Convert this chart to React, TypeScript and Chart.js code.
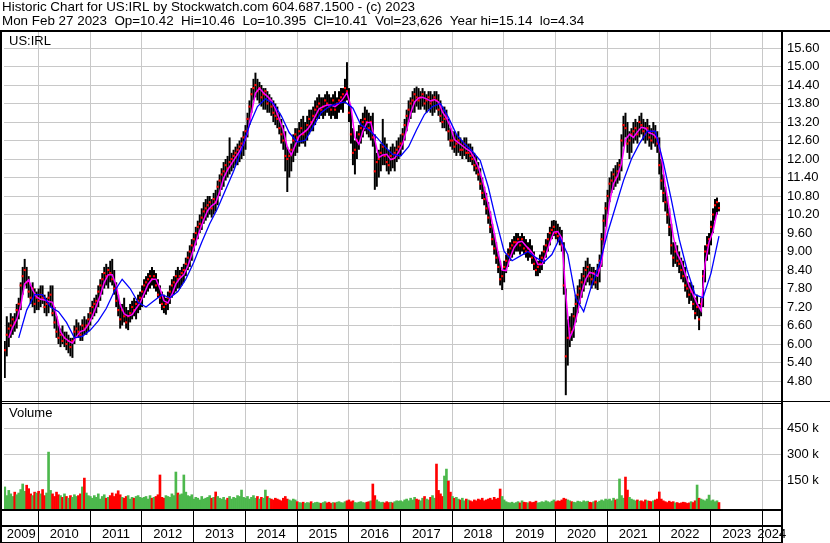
import { useEffect, useRef } from "react";
import { Chart, registerables } from "chart.js";

Chart.register(...registerables);

const FONT = "'Liberation Sans', Arial, Helvetica, sans-serif";

const HEADER_LINE_1 = "Historic Chart for US:IRL by Stockwatch.com 604.687.1500 - (c) 2023";
const HEADER_LINE_2 =
  "Mon Feb 27 2023  Op=10.42  Hi=10.46  Lo=10.395  Cl=10.41  Vol=23,626  Year hi=15.14  lo=4.34";
const SYMBOL_LABEL = "US:IRL";
const VOLUME_LABEL = "Volume";

// time axis (decimal years); one bar = two weeks
const FIRST_BAR_YEAR = 2009.35;
const BAR_STEP_YEARS = 1 / 26;
const X_MIN = 2009.3347;
const X_MAX = 2024.3568;
const YEARS = [2009, 2010, 2011, 2012, 2013, 2014, 2015, 2016, 2017, 2018, 2019, 2020, 2021, 2022, 2023, 2024];

const PRICE_TICKS = [4.8, 5.4, 6.0, 6.6, 7.2, 7.8, 8.4, 9.0, 9.6, 10.2, 10.8, 11.4, 12.0, 12.6, 13.2, 13.8, 14.4, 15.0, 15.6];
const PRICE_MIN = 4.119;
const PRICE_MAX = 16.119;
const VOLUME_TICKS = [150000, 300000, 450000];
const VOLUME_MIN = -17300;
const VOLUME_MAX = 600000;

const LOWS = [
  /*2009*/ 4.9, 5.6, 5.9, 6.2, 6.3, 6.4, 6.5, 6.8, 7.1, 7.6, 7.9, 7.8, 7.5, 7.3, 7.2, 7.0, 7.1,
  /*2010*/ 7.1, 7.2, 7.3, 7.0, 6.9, 7.0, 7.2, 6.9, 6.5, 6.2, 6.0, 5.9, 6.0, 5.9, 5.8, 5.7, 5.6, 5.55, 6.0, 6.2, 6.2, 6.1, 6.1, 6.3, 6.3, 6.4,
  /*2011*/ 6.6, 6.8, 6.9, 7.0, 7.2, 7.4, 7.6, 7.8, 7.9, 7.8, 8.0, 7.9, 7.6, 7.2, 6.9, 6.5, 6.6, 6.7, 6.5, 6.45, 6.7, 6.8, 6.9, 6.8, 7.0, 7.1,
  /*2012*/ 7.2, 7.5, 7.6, 7.7, 7.8, 7.9, 7.8, 7.7, 7.5, 7.3, 7.1, 7.0, 6.95, 7.1, 7.3, 7.5, 7.6, 7.7, 7.8, 7.8, 7.9, 8.0, 8.2, 8.4, 8.5, 8.7,
  /*2013*/ 9.0, 9.2, 9.4, 9.6, 9.7, 9.9, 10.0, 10.1, 10.2, 10.1, 10.2, 10.3, 10.5, 10.8, 11.0, 11.1, 11.3, 11.4, 11.5, 11.6, 11.7, 11.8, 11.8, 11.9, 12.0, 12.1,
  /*2014*/ 12.3, 12.7, 13.1, 13.5, 13.9, 14.0, 13.9, 13.8, 13.7, 13.6, 13.6, 13.5, 13.5, 13.4, 13.2, 13.1, 13.0, 12.8, 12.5, 12.3, 11.6, 10.93, 11.4, 11.6, 11.9, 12.1,
  /*2015*/ 12.2, 12.4, 12.5, 12.5, 12.4, 12.6, 12.8, 12.9, 12.9, 13.1, 13.3, 13.3, 13.4, 13.3, 13.4, 13.5, 13.4, 13.3, 13.4, 13.3, 13.3, 13.5, 13.6, 13.5, 13.8, 13.9,
  /*2016*/ 13.2, 12.5, 11.8, 11.5, 12.0, 12.3, 12.5, 12.7, 12.9, 12.8, 12.7, 12.6, 12.4, 11.0, 11.1, 11.4, 11.6, 11.8, 11.8, 11.6, 11.5, 11.6, 11.7, 11.6, 11.9, 12.0,
  /*2017*/ 12.1, 12.3, 12.6, 12.9, 13.2, 13.3, 13.5, 13.5, 13.7, 13.6, 13.6, 13.7, 13.6, 13.5, 13.6, 13.5, 13.4, 13.5, 13.6, 13.4, 13.2, 13.0, 13.0, 12.9, 12.6, 12.4,
  /*2018*/ 12.3, 12.2, 12.1, 12.2, 12.1, 12.0, 12.1, 12.0, 11.9, 11.9, 11.8, 11.6, 11.5, 11.3, 11.0, 10.7, 10.5, 10.2, 9.9, 9.6, 9.2, 8.9, 8.6, 8.3, 7.9, 7.75,
  /*2019*/ 8.0, 8.3, 8.5, 8.7, 8.8, 8.9, 9.0, 9.0, 8.9, 9.0, 8.9, 8.8, 8.7, 8.8, 8.6, 8.4, 8.2, 8.2, 8.3, 8.4, 8.6, 8.8, 9.0, 9.2, 9.4, 9.5,
  /*2020*/ 9.4, 9.3, 9.2, 9.0, 7.6, 4.34, 5.3, 5.9, 6.1, 6.2, 6.7, 7.0, 7.3, 7.5, 7.7, 7.9, 8.0, 7.9, 7.8, 7.9, 7.8, 7.75, 8.0, 8.5, 9.2, 9.8,
  /*2021*/ 10.2, 10.6, 10.9, 11.0, 11.1, 11.2, 11.3, 11.6, 12.4, 12.7, 12.2, 12.0, 12.2, 12.5, 12.6, 12.5, 12.7, 12.8, 12.6, 12.5, 12.6, 12.4, 12.3, 12.5, 12.4, 12.2,
  /*2022*/ 11.5, 11.0, 10.6, 10.3, 9.9, 9.5, 8.9, 8.5, 8.6, 8.5, 8.3, 8.1, 8.0, 7.7, 7.5, 7.3, 7.4, 7.1, 6.8, 6.9, 6.45, 6.9, 7.2, 8.0, 8.7, 8.9,
  /*2023*/ 9.2, 9.6, 10.0, 10.2, 10.3,
];

const HIGHS = [
  /*2009*/ 6.1, 6.9, 6.7, 7.0, 6.9, 7.0, 7.3, 7.5, 8.0, 8.5, 8.76, 8.5, 8.2, 7.9, 8.0, 7.8, 7.7,
  /*2010*/ 7.8, 7.9, 7.9, 7.6, 7.5, 7.7, 7.9, 7.9, 7.2, 6.9, 6.6, 6.5, 6.6, 6.4, 6.4, 6.3, 6.2, 6.2, 6.6, 6.8, 6.7, 6.6, 6.8, 6.9, 6.8, 7.0,
  /*2011*/ 7.2, 7.4, 7.5, 7.6, 7.9, 8.1, 8.3, 8.5, 8.6, 8.5, 8.7, 8.76, 8.4, 8.0, 7.6, 7.3, 7.3, 7.5, 7.2, 7.1, 7.3, 7.4, 7.5, 7.4, 7.6, 7.7,
  /*2012*/ 7.9, 8.1, 8.2, 8.3, 8.4, 8.5, 8.4, 8.3, 8.1, 7.9, 7.7, 7.6, 7.5, 7.7, 7.9, 8.1, 8.2, 8.4, 8.5, 8.4, 8.5, 8.6, 8.8, 9.0, 9.2, 9.4,
  /*2013*/ 9.6, 9.8, 10.0, 10.2, 10.4, 10.6, 10.7, 10.8, 10.8, 10.7, 10.9, 11.0, 11.3, 11.5, 11.7, 11.9, 12.0, 12.1, 12.7, 12.2, 12.3, 12.4, 12.5, 12.6, 12.7, 12.9,
  /*2014*/ 13.1, 13.5, 13.9, 14.3, 14.6, 14.8, 14.6, 14.5, 14.4, 14.3, 14.3, 14.2, 14.1, 14.0, 13.9, 13.8, 13.7, 13.5, 13.3, 13.1, 12.9, 12.4, 12.3, 12.5, 12.8, 13.0,
  /*2015*/ 13.0, 13.2, 13.3, 13.4, 13.2, 13.4, 13.6, 13.6, 13.7, 13.9, 14.0, 14.1, 14.0, 14.0, 14.1, 14.2, 14.1, 14.0, 14.1, 14.2, 14.0, 14.2, 14.3, 14.3, 14.6, 15.14,
  /*2016*/ 14.3, 13.7, 13.0, 12.6, 12.9, 13.1, 13.3, 13.5, 13.7, 13.6, 13.5, 13.4, 13.5, 12.8, 12.2, 12.3, 12.5, 13.3, 12.7, 12.5, 12.3, 12.4, 12.5, 12.4, 12.6, 12.7,
  /*2017*/ 12.8, 13.0, 13.3, 13.6, 13.9, 14.0, 14.2, 14.3, 14.35, 14.3, 14.2, 14.3, 14.2, 14.1, 14.2, 14.2, 14.1, 14.2, 14.2, 14.1, 13.9, 13.7, 13.7, 13.6, 13.3, 13.0,
  /*2018*/ 12.9, 12.9, 12.8, 12.9, 12.7, 12.6, 12.7, 12.7, 12.5, 12.5, 12.4, 12.2, 12.1, 11.9, 11.7, 11.4, 11.1, 10.9, 10.6, 10.3, 9.9, 9.6, 9.3, 9.0, 8.7, 8.4,
  /*2019*/ 8.7, 8.9, 9.1, 9.3, 9.4, 9.5, 9.6, 9.6, 9.5, 9.6, 9.5, 9.4, 9.3, 9.4, 9.2, 9.0, 8.8, 8.7, 8.9, 9.0, 9.2, 9.4, 9.6, 9.8, 10.0, 10.02,
  /*2020*/ 10.0, 9.9, 9.8, 9.7, 9.3, 7.8, 6.8, 6.9, 7.0, 7.2, 7.6, 7.9, 8.1, 8.3, 8.5, 8.7, 8.8, 8.6, 8.5, 8.5, 8.4, 8.6, 8.9, 9.6, 10.2, 10.6,
  /*2021*/ 11.0, 11.4, 11.6, 11.7, 11.8, 11.9, 12.0, 12.8, 13.4, 13.5, 13.2, 12.9, 13.0, 13.2, 13.3, 13.2, 13.4, 13.5, 13.3, 13.2, 13.3, 13.1, 13.0, 13.2, 13.1, 12.9,
  /*2022*/ 12.7, 12.0, 11.5, 11.1, 10.8, 10.4, 9.9, 9.3, 9.3, 9.2, 9.0, 8.8, 8.7, 8.5, 8.2, 8.0, 8.0, 7.9, 7.5, 7.6, 7.3, 7.5, 8.4, 9.2, 9.5, 9.6,
  /*2023*/ 10.0, 10.4, 10.7, 10.75, 10.6,
];

const CLOSES = [
  /*2009*/ 5.8, 6.3, 6.5, 6.6, 6.8, 6.7, 7.1, 7.3, 7.9, 8.2, 8.4, 8.0, 7.7, 7.5, 7.8, 7.3, 7.5,
  /*2010*/ 7.4, 7.6, 7.5, 7.2, 7.3, 7.5, 7.6, 7.0, 6.7, 6.4, 6.2, 6.3, 6.1, 6.2, 6.0, 6.1, 5.9, 6.1, 6.4, 6.5, 6.4, 6.3, 6.6, 6.5, 6.6, 6.8,
  /*2011*/ 7.0, 7.2, 7.3, 7.4, 7.7, 7.9, 8.1, 8.3, 8.2, 8.4, 8.3, 8.1, 7.8, 7.4, 7.1, 6.8, 7.1, 6.9, 6.7, 6.9, 7.0, 7.2, 7.1, 7.3, 7.4, 7.5,
  /*2012*/ 7.7, 7.9, 8.0, 8.1, 8.2, 8.1, 8.2, 7.9, 7.6, 7.5, 7.3, 7.2, 7.3, 7.5, 7.7, 7.9, 8.0, 8.2, 8.1, 8.2, 8.3, 8.4, 8.6, 8.8, 9.0, 9.2,
  /*2013*/ 9.4, 9.6, 9.8, 9.9, 10.1, 10.3, 10.4, 10.5, 10.6, 10.4, 10.7, 10.6, 11.1, 11.3, 11.5, 11.6, 11.8, 11.7, 11.9, 12.0, 12.1, 12.2, 12.3, 12.4, 12.5, 12.7,
  /*2014*/ 12.9, 13.3, 13.7, 14.1, 14.3, 14.4, 14.2, 14.3, 14.0, 14.1, 14.2, 13.8, 13.9, 13.7, 13.5, 13.4, 13.3, 13.0, 12.8, 12.6, 12.1, 12.0, 12.1, 12.3, 12.6, 12.8,
  /*2015*/ 12.7, 12.9, 13.0, 12.8, 12.9, 13.1, 13.3, 13.2, 13.4, 13.6, 13.7, 13.8, 13.6, 13.7, 13.9, 13.8, 13.7, 13.6, 13.9, 13.6, 13.8, 13.9, 14.0, 14.1, 14.3, 14.2,
  /*2016*/ 13.5, 12.8, 12.2, 12.3, 12.6, 12.8, 13.0, 13.2, 13.3, 13.2, 13.0, 13.2, 12.7, 11.6, 11.9, 12.0, 12.2, 12.4, 12.1, 11.9, 11.8, 12.1, 12.0, 12.2, 12.3, 12.4,
  /*2017*/ 12.5, 12.8, 13.1, 13.4, 13.6, 13.8, 13.9, 14.1, 14.0, 13.9, 14.0, 14.1, 13.8, 13.9, 14.0, 13.8, 13.9, 14.0, 13.9, 13.6, 13.4, 13.2, 13.3, 13.4, 12.9, 12.6,
  /*2018*/ 12.6, 12.4, 12.5, 12.6, 12.3, 12.3, 12.5, 12.2, 12.2, 12.1, 12.0, 11.8, 11.7, 11.5, 11.2, 10.9, 10.7, 10.4, 10.1, 9.8, 9.4, 9.1, 8.8, 8.5, 8.1, 8.2,
  /*2019*/ 8.5, 8.7, 8.9, 9.1, 9.2, 9.3, 9.3, 9.4, 9.2, 9.4, 9.1, 9.0, 9.1, 9.0, 8.8, 8.6, 8.4, 8.5, 8.6, 8.8, 9.0, 9.2, 9.4, 9.6, 9.7, 9.8,
  /*2020*/ 9.6, 9.5, 9.4, 9.2, 7.9, 5.6, 6.2, 6.5, 6.4, 6.9, 7.3, 7.6, 7.8, 8.0, 8.2, 8.4, 8.5, 8.2, 8.1, 8.3, 8.0, 8.4, 8.7, 9.4, 10.0, 10.4,
  /*2021*/ 10.8, 11.2, 11.3, 11.5, 11.4, 11.6, 11.8, 12.6, 13.1, 13.0, 12.5, 12.6, 12.8, 12.9, 13.0, 12.8, 13.2, 13.1, 12.9, 12.8, 13.0, 12.7, 12.6, 12.9, 12.7, 12.5,
  /*2022*/ 11.8, 11.3, 10.9, 10.6, 10.2, 9.8, 9.2, 8.8, 9.0, 8.7, 8.6, 8.4, 8.2, 7.9, 7.8, 7.6, 7.7, 7.3, 7.0, 7.2, 6.8, 7.3, 8.2, 9.0, 9.2, 9.4,
  /*2023*/ 9.8, 10.2, 10.5, 10.6, 10.41,
];

// volume per bar, thousands of shares
const VOLUMES_K = [
  /*2009*/ 110, 60, 90, 70, 55, 80, 65, 75, 95, 127, 85, 120, 100, 70, 60, 80, 75,
  /*2010*/ 85, 70, 95, 60, 75, 311, 90, 70, 55, 80, 65, 60, 50, 70, 55, 45, 60, 50, 65, 55, 60, 70, 110, 161, 75, 60,
  /*2011*/ 55, 45, 60, 50, 70, 40, 55, 65, 45, 50, 60, 75, 55, 70, 88, 65, 50, 45, 55, 60, 40, 50, 45, 55, 60, 50,
  /*2012*/ 45, 50, 55, 40, 60, 45, 50, 55, 65, 179, 50, 45, 60, 55, 50, 70, 60, 196, 75, 65, 70, 179, 80, 60, 55, 65,
  /*2013*/ 40, 50, 45, 35, 55, 40, 45, 50, 60, 45, 50, 81, 55, 45, 40, 50, 35, 45, 55, 40, 50, 45, 60, 55, 92, 50,
  /*2014*/ 45, 55, 40, 50, 60, 45, 55, 40, 50, 45, 92, 55, 45, 40, 35, 45, 40, 35, 30, 45, 55, 40, 35, 30, 40, 35,
  /*2015*/ 25, 20, 18, 22, 15, 20, 18, 25, 15, 20, 22, 18, 15, 20, 25, 18, 22, 15, 20, 18, 22, 25, 20, 18, 25, 30,
  /*2016*/ 35, 25, 30, 20, 18, 22, 25, 20, 18, 22, 25, 30, 127, 60, 35, 25, 20, 22, 18, 25, 20, 22, 18, 25, 30, 28,
  /*2017*/ 30, 25, 35, 40, 30, 45, 35, 50, 40, 35, 30, 45, 55, 40, 35, 50, 60, 45, 242, 90, 70, 55, 173, 213, 144, 80,
  /*2018*/ 55, 45, 50, 40, 35, 45, 30, 40, 35, 30, 25, 35, 30, 40, 35, 45, 30, 35, 40, 45, 35, 50, 40, 45, 98, 55,
  /*2019*/ 35, 25, 20, 18, 22, 15, 20, 25, 18, 30, 22, 20, 18, 25, 20, 22, 28, 18, 20, 25, 22, 30, 25, 20, 28, 35,
  /*2020*/ 25, 30, 28, 35, 45, 40, 35, 30, 25, 22, 20, 28, 25, 22, 30, 25, 28, 22, 20, 25, 30, 22, 28, 35, 30, 40,
  /*2021*/ 35, 40, 30, 45, 35, 40, 156, 60, 45, 167, 92, 50, 40, 35, 30, 35, 28, 30, 25, 35, 30, 28, 25, 30, 35, 40,
  /*2022*/ 81, 40, 30, 25, 20, 28, 22, 25, 18, 20, 15, 18, 22, 20, 15, 18, 25, 20, 30, 121, 45, 40, 35, 30, 40, 63,
  /*2023*/ 30, 35, 25, 30, 20,
];

// short moving average (magenta), read at every 2nd bar
const FAST_MA = [
  /*2009*/ null, 6.2, 6.55, 6.8, 7.25, 7.95, 8.08, 7.75, 7.53,
  /*2010*/ 7.45, 7.43, 7.38, 7.35, 6.93, 6.4, 6.2, 6.1, 6.03, 6.23, 6.4, 6.45, 6.63,
  /*2011*/ 6.9, 7.23, 7.58, 8.0, 8.25, 8.25, 7.9, 7.28, 6.98, 6.9, 6.95, 7.15, 7.33,
  /*2012*/ 7.63, 7.93, 8.1, 8.1, 7.8, 7.4, 7.33, 7.6, 7.95, 8.13, 8.25, 8.53, 8.9,
  /*2013*/ 9.3, 9.68, 10.03, 10.33, 10.48, 10.58, 10.93, 11.38, 11.65, 11.85, 12.05, 12.25, 12.48,
  /*2014*/ 12.85, 13.5, 14.13, 14.3, 14.15, 14.03, 13.9, 13.63, 13.3, 12.93, 12.38, 12.13, 12.45,
  /*2015*/ 12.75, 12.85, 12.95, 13.13, 13.38, 13.63, 13.7, 13.75, 13.75, 13.7, 13.8, 13.95, 14.15,
  /*2016*/ 13.7, 12.7, 12.48, 12.9, 13.18, 13.18, 12.63, 12.05, 12.13, 12.15, 11.98, 12.03, 12.23,
  /*2017*/ 12.5, 12.95, 13.48, 13.85, 13.98, 14.0, 13.95, 13.88, 13.93, 13.85, 13.53, 13.33, 13.05,
  /*2018*/ 12.63, 12.53, 12.43, 12.33, 12.25, 12.03, 11.75, 11.33, 10.8, 10.25, 9.6, 8.95, 8.4,
  /*2019*/ 8.38, 8.8, 9.13, 9.3, 9.33, 9.18, 9.05, 8.88, 8.58, 8.58, 8.9, 9.3, 9.63,
  /*2020*/ 9.65, 9.43, 7.6, 6.2, 6.5, 7.05, 7.68, 8.1, 8.33, 8.28, 8.2, 8.63, 9.63,
  /*2021*/ 10.6, 11.2, 11.45, 11.85, 12.63, 12.8, 12.7, 12.88, 13.03, 13.0, 12.85, 12.8, 12.68,
  /*2022*/ 12.08, 11.15, 10.38, 9.5, 8.93, 8.68, 8.28, 7.88, 7.6, 7.3, 7.08, 8.6, 9.3,
  /*2023*/ 9.65, 10.28,
];

// long moving average (blue), read at every 4th bar starting with bar 3
const SLOW_MA = [
  null, 6.2, 7.1, 7.6, 7.6, 7.2, 7.05, 6.7, 6.2, 6.25,
  6.45, 6.75, 7.15, 7.7, 8.1, 7.8, 7.35, 7.2, 7.4, 7.6,
  7.5, 7.7, 8.1, 8.65, 9.3, 9.9, 10.4, 11.0, 11.6, 12.3,
  13.1, 13.7, 13.95, 13.8, 13.4, 12.85, 12.55, 12.6, 13.05, 13.5,
  13.7, 13.8, 13.85, 13.65, 13.1, 12.95, 12.7, 12.4, 12.15, 12.1,
  12.4, 12.95, 13.45, 13.7, 13.8, 13.35, 12.8, 12.5, 12.25, 11.95,
  11.1, 10.0, 9.0, 8.7, 8.85, 9.0, 8.8, 8.65, 8.9, 9.45,
  8.9, 7.5, 7.05, 7.9, 8.6, 9.6, 10.45, 11.3, 12.0, 12.5,
  12.9, 12.9, 11.9, 10.7, 9.4, 8.4, 7.6, 7.5, 8.3, 9.5,
];

const GRID_COLOR = "#c8c8c8";
const BAR_COLOR = "#000000";
const CLOSE_COLOR = "#ff0000";
const FAST_COLOR = "#ff00ff";
const SLOW_COLOR = "#0000ff";
const UP_COLOR = "#4cb84c";
const DOWN_COLOR = "#ff0000";

const barYear = (i: number) => FIRST_BAR_YEAR + i * BAR_STEP_YEARS;

const noPadding = (s: any) => {
  s.paddingLeft = 0;
  s.paddingRight = 0;
  s.paddingTop = 0;
  s.paddingBottom = 0;
};

const framePlugin = {
  id: "stockwatchFrame",
  afterDraw(chart: any) {
    const { ctx, chartArea } = chart;
    const W = chart.width;
    const H = chart.height;
    const xg = chart.scales.xGrid;
    const yp = chart.scales.yPrice;
    const yv = chart.scales.yVol;
    const R = Math.round(chartArea.right);
    const T = Math.round(chartArea.top);
    const B = Math.round(chartArea.bottom);
    ctx.save();
    ctx.fillStyle = "#000";
    ctx.fillRect(0, T - 2, W, 2);
    ctx.fillRect(0, T - 2, 2, H - T + 2);
    ctx.fillRect(R, T - 2, 2, H - T + 2);
    const sep = Math.round(yp.bottom);
    ctx.fillRect(0, sep - 1, R, 1);
    ctx.fillRect(0, sep + 1, R, 1);
    ctx.fillRect(R + 2, sep - 1, W - R - 2, 1);
    ctx.fillRect(0, B, R + 2, 2);
    ctx.fillRect(0, B + 16, R + 2, 2);
    ctx.fillRect(0, H - 1, R + 2, 1);
    for (const yr of YEARS) {
      if (yr <= X_MIN || yr >= X_MAX) continue;
      const px = Math.round(xg.getPixelForValue(yr) - 0.5);
      ctx.fillRect(px, B, 1, H - B);
    }
    ctx.font = `13px ${FONT}`;
    ctx.textBaseline = "middle";
    ctx.textAlign = "left";
    ctx.fillText(SYMBOL_LABEL, 9, yp.top + 9);
    ctx.fillText(VOLUME_LABEL, 9, yv.top + 11);
    ctx.restore();
  },
};

export default function App() {
  const canvasRef = useRef<HTMLCanvasElement | null>(null);

  useEffect(() => {
    document.body.style.margin = "0";
    const canvas = canvasRef.current;
    if (!canvas) return;

    Chart.defaults.font.family = FONT;
    Chart.defaults.font.size = 13;
    Chart.defaults.color = "#000";

    const priceBars = LOWS.map((lo, i) => ({ x: barYear(i), y: [lo, HIGHS[i]] }));
    const closePoints = CLOSES.map((c, i) => ({ x: barYear(i), y: c }));
    const volumeBars = VOLUMES_K.map((v, i) => ({ x: barYear(i), y: v * 1000 }));
    const volumeColors = CLOSES.map((c, i) => (i > 0 && c < CLOSES[i - 1] ? DOWN_COLOR : UP_COLOR));
    const fastPoints = FAST_MA.map((v, k) => ({ x: barYear(2 * k), y: v })).filter((p) => p.y !== null);
    const slowPoints = SLOW_MA.map((v, k) => ({ x: barYear(3 + 4 * k), y: v })).filter((p) => p.y !== null);

    const labelPositions = YEARS.map((yr) => (Math.max(yr, X_MIN) + Math.min(yr + 1, X_MAX)) / 2);

    const chart = new Chart(canvas, {
      type: "bar",
      data: {
        datasets: [
          {
            type: "line",
            data: slowPoints as any,
            xAxisID: "x",
            yAxisID: "yPrice",
            borderColor: SLOW_COLOR,
            borderWidth: 1.3,
            pointRadius: 0,
            tension: 0,
            order: 1,
          },
          {
            type: "line",
            data: fastPoints as any,
            xAxisID: "x",
            yAxisID: "yPrice",
            borderColor: FAST_COLOR,
            borderWidth: 1.5,
            pointRadius: 0,
            tension: 0,
            order: 2,
          },
          {
            type: "scatter",
            data: closePoints as any,
            xAxisID: "x",
            yAxisID: "yPrice",
            pointStyle: "rect",
            pointRadius: 1.5,
            borderWidth: 0,
            backgroundColor: CLOSE_COLOR,
            order: 3,
          },
          {
            type: "bar",
            data: priceBars as any,
            xAxisID: "x",
            yAxisID: "yPrice",
            backgroundColor: BAR_COLOR,
            borderWidth: 0,
            grouped: false,
            barPercentage: 1,
            categoryPercentage: 1,
            inflateAmount: 0,
            order: 4,
          } as any,
          {
            type: "bar",
            data: volumeBars as any,
            xAxisID: "x",
            yAxisID: "yVol",
            backgroundColor: volumeColors,
            borderWidth: 0,
            grouped: false,
            barPercentage: 1,
            categoryPercentage: 1,
            base: VOLUME_MIN,
            order: 5,
          } as any,
        ],
      },
      options: {
        responsive: false,
        animation: false,
        devicePixelRatio: 1,
        events: [],
        layout: { padding: { left: 2, right: 0, top: 0, bottom: 0 } },
        plugins: {
          legend: { display: false },
          tooltip: { enabled: false },
          title: {
            display: true,
            text: HEADER_LINE_1,
            align: "start",
            color: "#000",
            font: { family: FONT, size: 13.4, weight: "normal", lineHeight: "14px" } as any,
            padding: { top: 0, bottom: 0 },
          },
          subtitle: {
            display: true,
            text: HEADER_LINE_2,
            align: "start",
            color: "#000",
            font: { family: FONT, size: 13.4, weight: "normal", lineHeight: "14px" } as any,
            padding: { top: 0, bottom: 4 },
          },
        },
        scales: {
          x: {
            type: "linear",
            position: "bottom",
            min: X_MIN,
            max: X_MAX,
            offset: false,
            grid: { display: false, drawTicks: false, offset: false },
            border: { display: false },
            ticks: {
              autoSkip: false,
              maxRotation: 0,
              minRotation: 0,
              padding: 18,
              color: "#000",
              font: { family: FONT, size: 13 },
              callback: (v: any) => String(Math.floor(Number(v))),
            },
            afterBuildTicks: (s: any) => {
              s.ticks = labelPositions.map((value) => ({ value }));
            },
            afterFit: (s: any) => {
              s.height = 34;
              noPadding(s);
            },
          },
          xGrid: {
            type: "linear",
            position: "top",
            min: X_MIN,
            max: X_MAX,
            offset: false,
            grid: { display: true, color: GRID_COLOR, lineWidth: 1, drawTicks: false, offset: false },
            border: { display: false },
            ticks: { display: false },
            afterBuildTicks: (s: any) => {
              s.ticks = YEARS.filter((y) => y > X_MIN && y < X_MAX).map((value) => ({ value }));
            },
            afterFit: (s: any) => {
              s.height = 0;
              noPadding(s);
            },
          },
          yPrice: {
            type: "linear",
            position: "right",
            stack: "panels",
            stackWeight: 370,
            min: PRICE_MIN,
            max: PRICE_MAX,
            offset: false,
            grid: { color: GRID_COLOR, lineWidth: 1, drawTicks: false },
            border: { display: false },
            ticks: {
              autoSkip: false,
              padding: 6,
              color: "#000",
              font: { family: FONT, size: 13 },
              callback: (v: any) => Number(v).toFixed(2),
            },
            afterBuildTicks: (s: any) => {
              s.ticks = PRICE_TICKS.map((value) => ({ value }));
            },
            afterFit: (s: any) => {
              s.width = 49;
              noPadding(s);
            },
          },
          yVol: {
            type: "linear",
            position: "right",
            stack: "panels",
            stackWeight: 107,
            min: VOLUME_MIN,
            max: VOLUME_MAX,
            offset: false,
            grid: { color: GRID_COLOR, lineWidth: 1, drawTicks: false },
            border: { display: false },
            ticks: {
              autoSkip: false,
              padding: 6,
              color: "#000",
              font: { family: FONT, size: 13 },
              callback: (v: any) => `${Number(v) / 1000} k`,
            },
            afterBuildTicks: (s: any) => {
              s.ticks = VOLUME_TICKS.map((value) => ({ value }));
            },
            afterFit: (s: any) => {
              s.width = 49;
              noPadding(s);
            },
          },
        } as any,
      },
      plugins: [framePlugin],
    });

    return () => chart.destroy();
  }, []);

  return (
    <div style={{ width: 830, height: 543, position: "relative", background: "#fff" }}>
      <canvas ref={canvasRef} width={830} height={543} style={{ display: "block" }} />
    </div>
  );
}
